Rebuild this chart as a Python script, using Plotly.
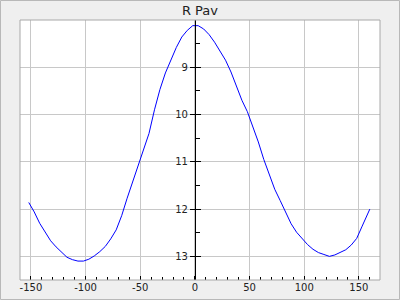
import plotly.graph_objects as go

title = "R Pav"
phase = [-152, -147, -142, -137, -132, -127, -122, -117, -112, -107, -102, -97, -92, -87,
         -82, -77, -72, -67, -62, -57, -52, -47, -42, -37, -32, -27, -22, -17, -12, -7,
         -2, 3, 8, 13, 18, 23, 28, 33, 38, 43, 48, 53, 58, 63, 68, 73, 78, 83, 88, 93,
         98, 103, 108, 113, 118, 123, 128, 133, 138, 143, 148, 153, 160]
mag = [11.86, 12.06, 12.30, 12.49, 12.67, 12.80, 12.92, 13.02, 13.07, 13.10, 13.10, 13.06,
       12.99, 12.90, 12.79, 12.63, 12.44, 12.14, 11.77, 11.43, 11.08, 10.77, 10.40, 9.90,
       9.47, 9.12, 8.83, 8.58, 8.36, 8.22, 8.12, 8.12, 8.19, 8.31, 8.47, 8.65, 8.85, 9.10,
       9.40, 9.70, 9.94, 10.24, 10.58, 10.95, 11.28, 11.58, 11.82, 12.08, 12.31, 12.49,
       12.63, 12.75, 12.85, 12.92, 12.96, 13.00, 12.97, 12.92, 12.86, 12.76, 12.62, 12.36,
       12.00]
x_ticks = [-150, -100, -50, 0, 50, 100, 150]
x_tick_text = ["-150", "-100", "-50", "0", "50", "100", "150"]
y_ticks = [9, 10, 11, 12, 13]
y_tick_text = ["9", "10", "11", "12", "13"]

x_range = [-160, 169.3]
y_range = [13.5, 8.0]
ypos = (0 - x_range[0]) / (x_range[1] - x_range[0])

FONT = "DejaVu Sans"
fig = go.Figure()
fig.add_trace(go.Scatter(x=phase, y=mag, mode="lines",
                         line=dict(color="#0000ff", width=1),
                         showlegend=False, hoverinfo="skip"))
fig.add_trace(go.Scatter(x=phase, y=mag, mode="lines", yaxis="y2",
                         line=dict(color="#0000ff", width=1), opacity=0,
                         showlegend=False, hoverinfo="skip"))

fig.update_layout(
    width=400, height=300,
    margin=dict(l=20, r=20, t=20, b=20, autoexpand=False),
    paper_bgcolor="#efefef", plot_bgcolor="#ffffff",
    font=dict(family=FONT, size=10, color="#222222"),
    title=dict(text=title, x=0.5, xanchor="center", y=1 - 10 / 300, yanchor="middle",
               font=dict(family=FONT, size=13, color="#222222")),
    xaxis=dict(range=x_range, tickvals=x_ticks, ticktext=x_tick_text,
               ticks="inside", ticklen=4, tickcolor="#000000",
               minor=dict(dtick=10, ticks="inside", ticklen=3, tickcolor="#000000",
                          showgrid=False),
               showgrid=True, gridcolor="#c8c8c8", gridwidth=1,
               zeroline=False, showline=False, fixedrange=True, automargin=False,
               tickfont=dict(family=FONT, size=10, color="#222222")),
    yaxis=dict(range=y_range, anchor="free", position=ypos,
               tickvals=y_ticks, ticktext=y_tick_text,
               ticks="outside", ticklen=5, tickcolor="#000000",
               showline=True, linecolor="#000000", linewidth=1,
               showgrid=True, gridcolor="#c8c8c8", gridwidth=1,
               zeroline=False, fixedrange=True, automargin=False,
               tickfont=dict(family=FONT, size=10, color="#222222")),
    yaxis2=dict(range=y_range, anchor="free", position=ypos, overlaying="y",
                tickvals=y_ticks, ticks="inside", ticklen=5, tickcolor="#000000",
                minor=dict(dtick=0.5, ticks="inside", ticklen=4, tickcolor="#000000",
                           showgrid=False),
                showticklabels=False, showgrid=False, showline=False,
                zeroline=False, fixedrange=True, automargin=False),
    shapes=[
        dict(type="rect", xref="paper", yref="paper", x0=0, x1=1, y0=0, y1=1,
             line=dict(color="#a8a8a8", width=1), layer="above"),
        dict(type="rect", xref="paper", yref="paper",
             x0=(0.5 - 20) / 360, x1=(399.5 - 20) / 360,
             y0=(280 - 299.5) / 260, y1=(280 - 0.5) / 260,
             line=dict(color="#b8b8b8", width=1), layer="above"),
    ],
)

fig.write_html("out.html")
